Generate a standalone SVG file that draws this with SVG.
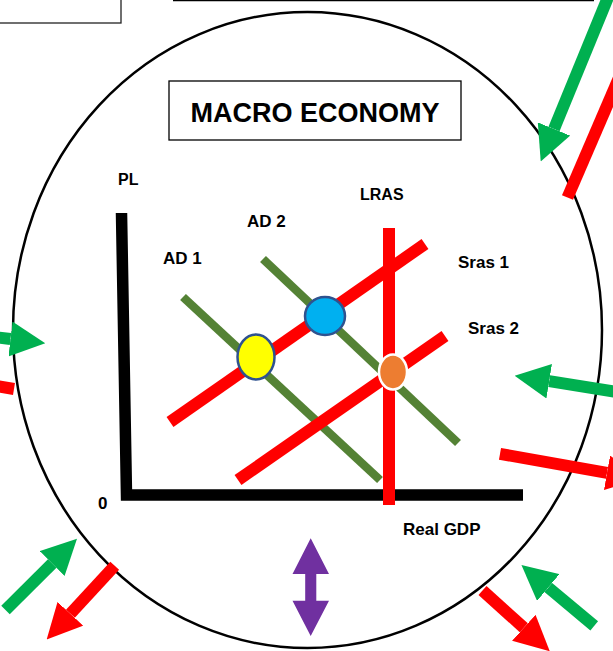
<svg xmlns="http://www.w3.org/2000/svg" width="613" height="651" viewBox="0 0 613 651">
<style>
  .lbl { font-family: "Liberation Sans", Arial, sans-serif; font-weight: bold; font-size: 17px; fill: #000; }
  .title { font-family: "Liberation Sans", Arial, sans-serif; font-weight: bold; font-size: 27px; fill: #000; }
  .ad { stroke: #548235; stroke-width: 8.5; fill: none; stroke-linecap: butt; }
  .as { stroke: #FF0000; stroke-width: 12; fill: none; stroke-linecap: butt; }
  .ga { stroke: #00B050; stroke-width: 12; fill: none; stroke-linecap: butt; }
  .ra { stroke: #FF0000; stroke-width: 12; fill: none; stroke-linecap: butt; }
</style>
<defs>
  <marker id="headG" markerUnits="userSpaceOnUse" viewBox="0 0 35 35" markerWidth="35" markerHeight="35" refX="0" refY="17.5" orient="auto">
    <path d="M0,0 L35,17.5 L0,35 Z" fill="#00B050"/>
  </marker>
  <marker id="headR" markerUnits="userSpaceOnUse" viewBox="0 0 35 35" markerWidth="35" markerHeight="35" refX="0" refY="17.5" orient="auto">
    <path d="M0,0 L35,17.5 L0,35 Z" fill="#FF0000"/>
  </marker>
</defs>
<rect width="613" height="651" fill="#fff"/>

<!-- partial boxes at the top edge -->
<g id="top-left-box"><rect x="-2" y="-2" width="123" height="25" fill="none" stroke="#222" stroke-width="1.3"/></g>
<g id="top-box"><line x1="173" y1="0.5" x2="594" y2="0.5" stroke="#000" stroke-width="1.5"/></g>

<!-- big circle -->
<g id="circle"><ellipse cx="307.5" cy="330" rx="294.5" ry="318" fill="none" stroke="#000" stroke-width="2.5"/></g>

<!-- title -->
<g id="title-box">
  <rect x="169" y="81" width="292" height="59" fill="#fff" stroke="#000" stroke-width="1.3"/>
  <text class="title" x="315" y="122" text-anchor="middle">MACRO ECONOMY</text>
</g>

<!-- axes -->
<g id="axes">
  <path d="M121.5,213 L126.5,495 L523,495" fill="none" stroke="#000" stroke-width="11.5" stroke-linejoin="miter"/>
</g>

<!-- AD curves -->
<g id="ad1"><line class="ad" x1="183" y1="297" x2="380" y2="480"/></g>
<g id="ad2"><line class="ad" x1="263" y1="259" x2="458" y2="443"/></g>

<!-- supply curves -->
<g id="sras1"><line class="as" x1="170" y1="422" x2="425" y2="244"/></g>
<g id="sras2"><line class="as" x1="238" y1="480" x2="445" y2="336"/></g>
<g id="lras"><line class="as" x1="389" y1="228" x2="389" y2="505"/></g>

<!-- equilibrium points -->
<g id="eq-yellow"><ellipse cx="256" cy="357" rx="18.5" ry="22.5" fill="#FFFF00" stroke="#2F528F" stroke-width="2.5"/></g>
<g id="eq-blue"><ellipse cx="325" cy="316" rx="20" ry="19" fill="#00B0F0" stroke="#2F528F" stroke-width="2.5"/></g>
<g id="eq-orange"><ellipse cx="393" cy="372" rx="14" ry="17.5" fill="#ED7D31" stroke="#fff" stroke-width="2.5"/></g>

<!-- labels -->
<g id="labels">
  <text class="lbl" x="118" y="185" style="font-size:16px">PL</text>
  <text class="lbl" x="360" y="200" style="font-size:16px">LRAS</text>
  <text class="lbl" x="247" y="227">AD 2</text>
  <text class="lbl" x="163" y="264">AD 1</text>
  <text class="lbl" x="458" y="268">Sras 1</text>
  <text class="lbl" x="468" y="334">Sras 2</text>
  <text class="lbl" x="98" y="509">0</text>
  <text class="lbl" x="403" y="535">Real GDP</text>
</g>

<!-- outer arrows -->
<g id="connectors">
  <line class="ga" x1="620" y1="-32" x2="554" y2="129" marker-end="url(#headG)"/>
  <line class="ra" x1="567.5" y1="197.5" x2="640" y2="29" marker-end="url(#headR)"/>
  <line class="ga" x1="-40" y1="333" x2="10.5" y2="339" marker-end="url(#headG)"/>
  <line class="ra" x1="14" y1="389" x2="-40" y2="380" marker-end="url(#headR)"/>
  <line class="ga" x1="660" y1="399" x2="549.2" y2="381.2" marker-end="url(#headG)"/>
  <line class="ra" x1="500" y1="453.8" x2="607" y2="472.8" marker-end="url(#headR)"/>
  <line class="ga" x1="5.5" y1="610" x2="52.2" y2="563.5" marker-end="url(#headG)"/>
  <line class="ra" x1="114.7" y1="565.8" x2="70.4" y2="613.8" marker-end="url(#headR)"/>
  <line class="ra" x1="482.5" y1="590.5" x2="523.8" y2="627.8" marker-end="url(#headR)"/>
  <line class="ga" x1="594.2" y1="625.8" x2="548.3" y2="587.5" marker-end="url(#headG)"/>
</g>

<!-- purple double arrow -->
<g id="double-arrow">
  <polygon points="310.7,538.3 329,574 316.3,574 316.3,600.7 329,600.7 310.7,636 292.5,600.7 305.2,600.7 305.2,574 292.5,574" fill="#7030A0"/>
</g>
</svg>
